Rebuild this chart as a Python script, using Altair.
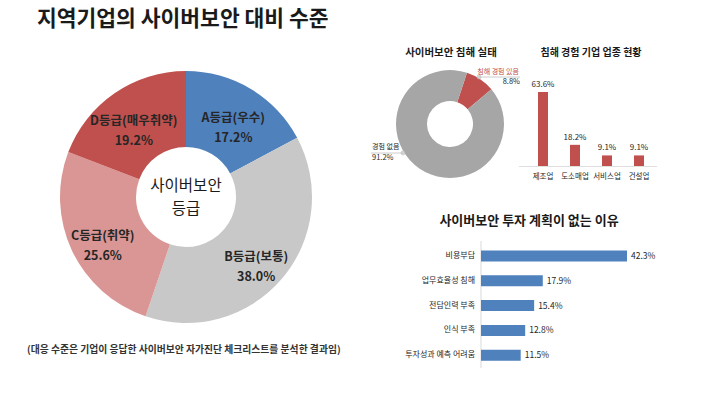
import altair as alt
import pandas as pd

FONT = "Noto Sans CJK KR"

# --- main donut: cyber security grade ---
grade_labels = ["A등급(우수)", "B등급(보통)", "C등급(취약)", "D등급(매우취약)"]
grade_values = [17.2, 38.0, 25.6, 19.2]
grade_colors = ["#4F81BD", "#C8C8C8", "#D99694", "#C0504D"]

# --- small donut: breach status ---
breach_labels = ["침해 경험 있음", "경험 없음"]
breach_values = [8.8, 91.2]
breach_colors = ["#C0504D", "#A6A6A6"]

# --- industries of breached firms ---
industry_labels = ["제조업", "도소매업", "서비스업", "건설업"]
industry_values = [63.6, 18.2, 9.1, 9.1]

# --- reasons for no investment plan ---
reason_labels = ["비용부담", "업무효율성 침해", "전담인력 부족", "인식 부족", "투자성과 예측 어려움"]
reason_values = [42.3, 17.9, 15.4, 12.8, 11.5]

grade_df = pd.DataFrame({
    "label": grade_labels,
    "value": grade_values,
    "idx": list(range(len(grade_labels))),
    "text": [f"{l}\n{v:.1f}%" for l, v in zip(grade_labels, grade_values)],
})
breach_df = pd.DataFrame({
    "label": breach_labels,
    "value": breach_values,
    "idx": list(range(len(breach_labels))),
})
ind_df = pd.DataFrame({
    "label": industry_labels,
    "value": industry_values,
    "text": [f"{v:.1f}%" for v in industry_values],
})
rsn_df = pd.DataFrame({
    "label": reason_labels,
    "value": reason_values,
    "text": [f"{v:.1f}%" for v in reason_values],
})

CX, CY = 186, 197

def txt(s, x, y, size, weight="normal", color="#222222", align="center", lh=None):
    kw = dict(font=FONT, fontSize=size, fontWeight=weight, color=color, align=align,
              baseline="middle", lineBreak="\n")
    if lh:
        kw["lineHeight"] = lh
    return alt.Chart(pd.DataFrame({"t": [s]})).mark_text(**kw).encode(
        x=alt.value(x), y=alt.value(y), text="t:N")

# main donut
main_arc = alt.Chart(grade_df).mark_arc(innerRadius=50, outerRadius=126).encode(
    theta=alt.Theta("value:Q", stack=True, scale=alt.Scale(range=[0, 6.2832])),
    color=alt.Color("label:N", scale=alt.Scale(domain=grade_labels, range=grade_colors), legend=None),
    order=alt.Order("idx:Q"),
    x=alt.value(CX), y=alt.value(CY),
)
main_lbl = alt.Chart(grade_df).mark_text(
    radius=92, font=FONT, fontSize=12.5, fontWeight="bold", color="#262626",
    lineBreak="\n", baseline="middle", lineHeight=20
).encode(
    theta=alt.Theta("value:Q", stack=True, scale=alt.Scale(range=[0, 6.2832])),
    order=alt.Order("idx:Q"),
    text="text:N",
    x=alt.value(CX), y=alt.value(CY),
)

# small donut
SX, SY = 450, 124
small_arc = alt.Chart(breach_df).mark_arc(innerRadius=23, outerRadius=54).encode(
    theta=alt.Theta("value:Q", stack=True, scale=alt.Scale(range=[0.32, 0.32 + 6.2832])),
    color=alt.Color("label:N", scale=alt.Scale(domain=breach_labels, range=breach_colors), legend=None),
    order=alt.Order("idx:Q"),
    x=alt.value(SX), y=alt.value(SY),
)
lead1 = alt.Chart(pd.DataFrame({"a": [1]})).mark_rule(color="#BFBFBF", strokeWidth=0.8).encode(
    x=alt.value(479), x2=alt.value(520), y=alt.value(77))
lead2 = alt.Chart(pd.DataFrame({"a": [1]})).mark_rule(color="#BFBFBF", strokeWidth=0.8).encode(
    x=alt.value(371), x2=alt.value(403), y=alt.value(153))
dot1 = alt.Chart(pd.DataFrame({"a": [1]})).mark_point(size=8, color="#BFBFBF", filled=False).encode(
    x=alt.value(479), y=alt.value(77))
dot2 = alt.Chart(pd.DataFrame({"a": [1]})).mark_point(size=8, color="#BFBFBF", filled=False).encode(
    x=alt.value(403), y=alt.value(153))

# vertical bars
ind_x = alt.X("label:N", sort=industry_labels, axis=None,
              scale=alt.Scale(domain=industry_labels, range=[527, 655], paddingInner=0.6875, paddingOuter=0.34375))
ind_y = alt.Y("value:Q", axis=None, scale=alt.Scale(domain=[0, 63.6], range=[166, 92]))
ind_bars = alt.Chart(ind_df).mark_bar(color="#C0504D").encode(x=ind_x, y=ind_y)
ind_vals = alt.Chart(ind_df).mark_text(font=FONT, fontSize=8, color="#262626", dy=-7, baseline="middle").encode(
    x=ind_x, y=ind_y, text="text:N")
ind_cats = alt.Chart(ind_df).mark_text(font=FONT, fontSize=7.5, color="#262626", baseline="middle").encode(
    x=ind_x, y=alt.value(177), text="label:N")
ind_base = alt.Chart(pd.DataFrame({"a": [1]})).mark_rule(color="#E0E0E0", strokeWidth=1).encode(
    x=alt.value(519), x2=alt.value(657), y=alt.value(166.5))

# horizontal bars
rsn_y = alt.Y("label:N", sort=reason_labels, axis=None,
              scale=alt.Scale(domain=reason_labels, range=[243.6, 367.6], paddingInner=0.556, paddingOuter=0.278))
rsn_x = alt.X("value:Q", axis=None, scale=alt.Scale(domain=[0, 42.3], range=[481, 627]))
rsn_bars = alt.Chart(rsn_df).mark_bar(color="#4F81BD").encode(x=rsn_x, y=rsn_y)
rsn_vals = alt.Chart(rsn_df).mark_text(font=FONT, fontSize=8.5, color="#262626", dx=4, align="left",
                                       baseline="middle").encode(x=rsn_x, y=rsn_y, text="text:N")
rsn_cats = alt.Chart(rsn_df).mark_text(font=FONT, fontSize=8, color="#262626", align="right",
                                       baseline="middle").encode(x=alt.value(475), y=rsn_y, text="label:N")
rsn_axis = alt.Chart(pd.DataFrame({"a": [1]})).mark_rule(color="#D9D9D9", strokeWidth=1).encode(
    x=alt.value(481), y=alt.value(241), y2=alt.value(368))

texts = [
    txt("지역기업의 사이버보안 대비 수준", 37, 20, 21.5, "bold", "#1a1a1a", "left"),
    txt("사이버보안", CX, 186, 15.5, "normal", "#1a1a1a"),
    txt("등급", CX, 209, 15.5, "normal", "#1a1a1a"),
    txt("(대응 수준은 기업이 응답한 사이버보안 자가진단 체크리스트를 분석한 결과임)", 27, 350, 9.8, "bold", "#333333", "left"),
    txt("사이버보안 침해 실태", 451, 53, 10.5, "bold", "#1a1a1a"),
    txt("침해 경험 기업 업종 현황", 591, 53, 10, "bold", "#1a1a1a"),
    txt("사이버보안 투자 계획이 없는 이유", 529, 221, 13, "bold", "#1a1a1a"),
    txt(breach_labels[0], 519, 72, 7, "normal", "#C0504D", "right"),
    txt(f"{breach_values[0]:.1f}%", 520, 82, 7.5, "normal", "#262626", "right"),
    txt(breach_labels[1], 372, 147, 7, "normal", "#262626", "left"),
    txt(f"{breach_values[1]:.1f}%", 372, 158, 7.5, "normal", "#262626", "left"),
]

chart = alt.layer(
    main_arc, main_lbl, small_arc, lead1, lead2, dot1, dot2,
    ind_base, ind_bars, ind_vals, ind_cats,
    rsn_axis, rsn_bars, rsn_vals, rsn_cats,
    *texts,
).resolve_scale(
    x="independent", y="independent", theta="independent", color="independent"
).properties(
    width=710, height=412, padding=0, autosize="none", background="white"
).configure_view(stroke=None)

chart.save("out.html", embed_options={"renderer": "svg", "actions": False})
